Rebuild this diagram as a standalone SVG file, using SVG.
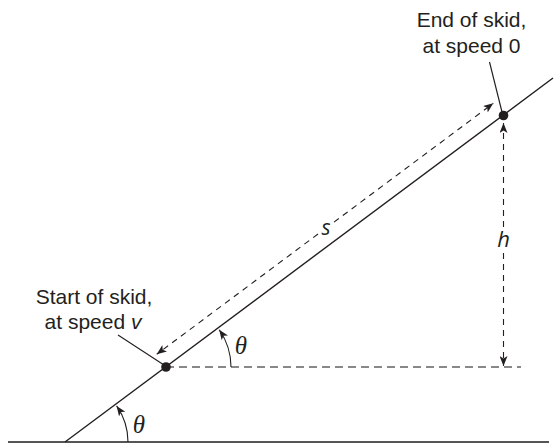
<svg xmlns="http://www.w3.org/2000/svg" width="555" height="445" viewBox="0 0 555 445">
<style>
.lbl{font-family:"Liberation Sans","Open Sans",sans-serif;font-size:21px;fill:#231f20;text-anchor:middle}
.it{font-style:italic}
.var{font-family:"Open Sans","Liberation Sans",sans-serif;font-style:italic;fill:#231f20;text-anchor:middle}
.th{font-family:"Liberation Serif","DejaVu Serif",serif;font-style:italic;font-size:25px;fill:#231f20;text-anchor:middle}
.solid{stroke:#231f20;stroke-width:1.4;fill:none}
.thin{stroke:#231f20;stroke-width:1.1;fill:none}
.dash{stroke:#231f20;stroke-width:1.1;fill:none;stroke-dasharray:6 5}
.gdash{stroke:#888;stroke-width:1.8;fill:none;stroke-dasharray:8 5}
</style>
<defs>
<marker id="ah" viewBox="0 0 10 8" refX="10" refY="4" markerWidth="10" markerHeight="8" markerUnits="userSpaceOnUse" orient="auto">
<path d="M0,0 L10,4 L0,8 L2.5,4 z" fill="#231f20"/>
</marker>
</defs>
<rect width="555" height="445" fill="#fff"/>
<g id="ground"><line x1="8" y1="442" x2="549" y2="442" stroke="#555" stroke-width="2"/></g>
<g id="incline"><line class="solid" x1="65" y1="442" x2="553" y2="78"/></g>
<g id="connectors">
<line class="gdash" x1="166" y1="367" x2="521" y2="367"/>
<line class="dash" x1="318" y1="234" x2="156.7" y2="354.3" marker-end="url(#ah)"/>
<line class="dash" x1="334" y1="222.1" x2="493.3" y2="103.3" marker-end="url(#ah)"/>
<line class="dash" x1="503.5" y1="227" x2="503.5" y2="123" marker-end="url(#ah)"/>
<line class="dash" x1="503.5" y1="253" x2="503.5" y2="366" marker-end="url(#ah)"/>
<path class="thin" d="M128,442 A63,63 0 0 0 116.6,405.9" marker-end="url(#ah)"/>
<path class="thin" d="M231,367 A65,65 0 0 0 219.2,329.7" marker-end="url(#ah)"/>
<line class="thin" x1="118" y1="335" x2="164" y2="365"/>
<line class="thin" x1="489.5" y1="62" x2="502" y2="112"/>
</g>
<g id="start">
<circle cx="166" cy="367" r="4.8" fill="#231f20"/>
<text class="lbl" x="94" y="304">Start of skid,<tspan x="93" dy="24.5">at speed <tspan class="it">v</tspan></tspan></text>
</g>
<g id="end">
<circle cx="503.5" cy="115.5" r="4.8" fill="#231f20"/>
<text class="lbl" x="471.5" y="27">End of skid,<tspan x="471.5" dy="26">at speed 0</tspan></text>
</g>
<g id="labels">
<text class="var" x="326" y="235" font-size="21">s</text>
<text class="var" x="503.5" y="247" font-size="22">h</text>
<text class="th" x="139" y="433">θ</text>
<text class="th" x="241" y="354">θ</text>
</g>
</svg>
